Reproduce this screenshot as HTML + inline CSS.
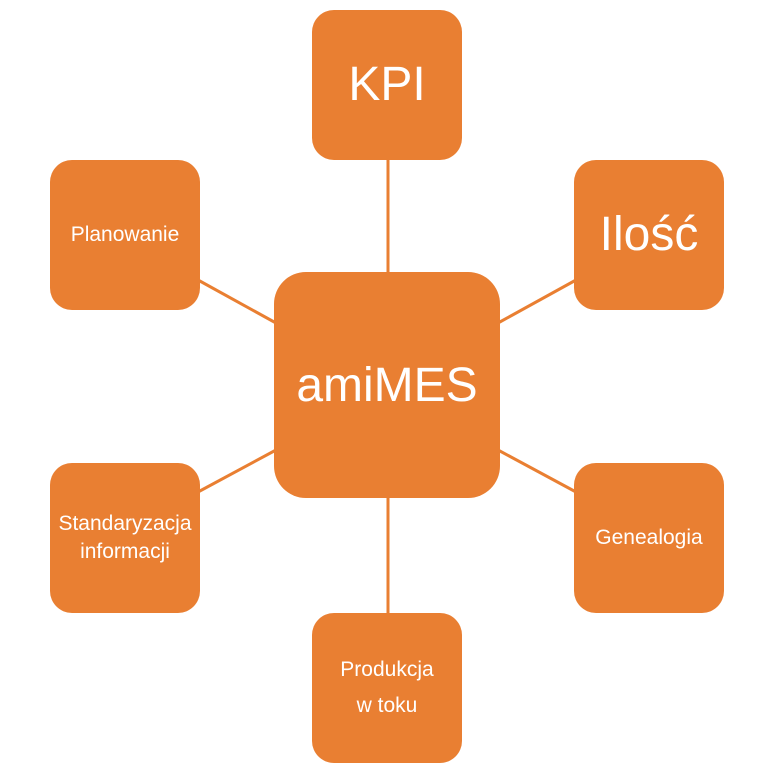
<!DOCTYPE html>
<html><head><meta charset="utf-8"><style>
html,body{margin:0;padding:0;background:#fff;}
body{width:775px;height:777px;position:relative;overflow:hidden;font-family:"Liberation Sans",sans-serif;}
.b{position:absolute;background:#E97F32;border-radius:22px;color:#fff;display:flex;align-items:center;justify-content:center;text-align:center;}
.s{width:150px;height:150px;font-size:21px;line-height:36px;}
.big{font-size:48px;}
</style></head><body>
<svg width="775" height="777" style="position:absolute;left:0;top:0">
<g stroke="#E97F32" stroke-width="3">
<line x1="388" y1="160" x2="388" y2="275"/>
<line x1="388" y1="495" x2="388" y2="615"/>
<line x1="198" y1="280" x2="276" y2="323"/>
<line x1="576" y1="280" x2="498" y2="323"/>
<line x1="198" y1="492" x2="276" y2="450"/>
<line x1="576" y1="492" x2="498" y2="450"/>
</g></svg>
<div class="b big" style="left:274px;top:272px;width:226px;height:226px;border-radius:32px;">amiMES</div>
<div class="b s big" style="left:312px;top:10px;">KPI</div>
<div class="b s" style="left:50px;top:160px;">Planowanie</div>
<div class="b s big" style="left:574px;top:160px;">Ilość</div>
<div class="b s" style="left:50px;top:463px;line-height:28px;">Standaryzacja<br>informacji</div>
<div class="b s" style="left:574px;top:463px;">Genealogia</div>
<div class="b s" style="left:312px;top:613px;">Produkcja<br>w toku</div>
</body></html>
